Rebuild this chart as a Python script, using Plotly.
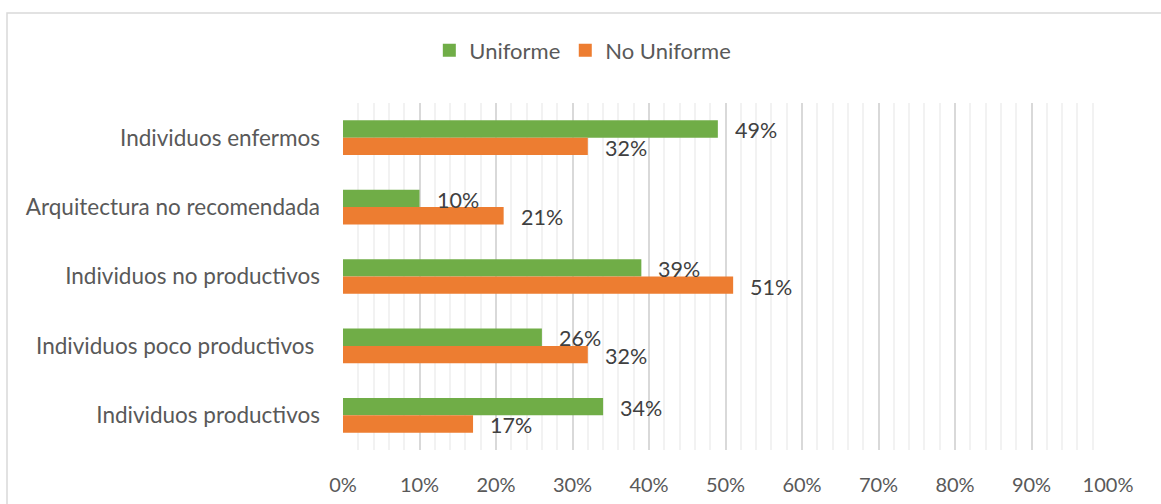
import plotly.graph_objects as go

categories = [
    "Individuos enfermos",
    "Arquitectura no recomendada",
    "Individuos no productivos",
    "Individuos poco productivos ",
    "Individuos productivos",
]
uniforme = [49, 10, 39, 26, 34]
no_uniforme = [32, 21, 51, 32, 17]
x_ticks = list(range(0, 101, 10))
x_tick_labels = [f"{v}%" for v in x_ticks]

GREEN = "#70AD47"
ORANGE = "#ED7D31"
FONT = "Lato"

fig = go.Figure()
fig.add_trace(go.Bar(y=categories, x=uniforme, name="Uniforme", orientation="h",
                     marker=dict(color=GREEN, line=dict(width=0)), showlegend=False))
fig.add_trace(go.Bar(y=categories, x=no_uniforme, name="No Uniforme", orientation="h",
                     marker=dict(color=ORANGE, line=dict(width=0)), showlegend=False))

# legend entries with larger square swatches
for name, color in (("Uniforme", GREEN), ("No Uniforme", ORANGE)):
    fig.add_trace(go.Scatter(x=[None], y=[None], mode="markers", name=name,
                             marker=dict(symbol="square", size=13, color=color),
                             showlegend=True, hoverinfo="skip"))

# value labels placed just past the end of each bar
annotations = []
for cat, u, n in zip(categories, uniforme, no_uniforme):
    for val, shift in ((u, 7.5), (n, -10)):
        annotations.append(dict(
            x=val, y=cat, xref="x", yref="y", text=f"{val}%", showarrow=False,
            xanchor="left", yanchor="middle", xshift=15, yshift=shift,
            font=dict(family=FONT, size=21.5, color="#404040"),
        ))

fig.update_layout(
    width=1161, height=504,
    margin=dict(l=343, r=53, t=103, b=54, autoexpand=False),
    paper_bgcolor="white", plot_bgcolor="white",
    barmode="group", bargap=0.5, bargroupgap=0,
    font=dict(family=FONT, size=20, color="#595959"),
    showlegend=True,
    legend=dict(orientation="h", xref="container", yref="container",
                x=0.502, y=0.90, xanchor="center", yanchor="middle",
                font=dict(family=FONT, size=22, color="#595959"),
                itemwidth=30, traceorder="normal"),
    annotations=annotations,
    shapes=[dict(type="rect", xref="paper", yref="paper",
                 x0=(7 - 343) / 765, x1=1.2, y0=-0.3, y1=(450 - 13) / 347,
                 line=dict(color="#d9d9d9", width=1.5), fillcolor="rgba(0,0,0,0)",
                 layer="below")],
)
fig.update_xaxes(
    range=[0, 100], tickvals=x_ticks, ticktext=x_tick_labels,
    showgrid=True, gridcolor="#d9d9d9", gridwidth=1.5,
    minor=dict(dtick=2, showgrid=True, gridcolor="#f2f2f2", gridwidth=1.5),
    zeroline=False, showline=False, ticks="", ticklabelstandoff=21,
    automargin=False,
    tickfont=dict(family=FONT, size=20, color="#595959"),
)
fig.update_yaxes(
    autorange="reversed", showgrid=False, zeroline=False, showline=False,
    ticks="", ticklabelstandoff=22, automargin=False,
    tickfont=dict(family=FONT, size=22.5, color="#595959"),
)

fig.write_html("out.html")
